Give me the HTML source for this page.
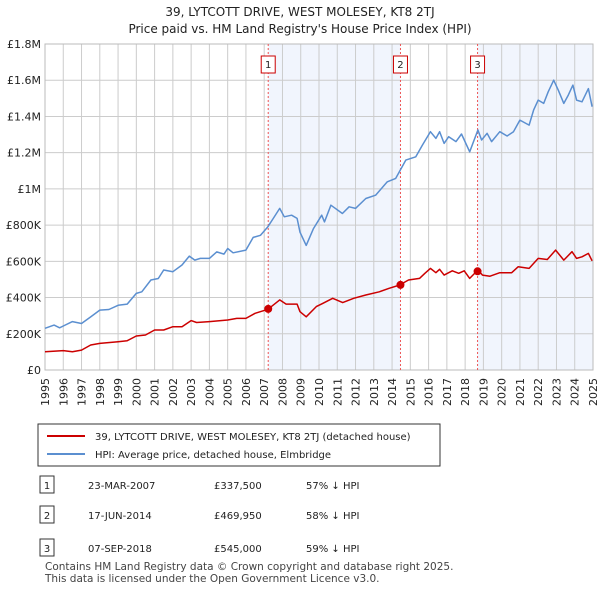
<!DOCTYPE html>
<html><head><meta charset="utf-8"><style>
body{margin:0;background:#fff;font-family:"Liberation Sans","DejaVu Sans",sans-serif;}
svg text{font-family:"DejaVu Sans","Liberation Sans",sans-serif;}
</style></head><body>
<svg id="c" width="600" height="590" viewBox="0 0 600 590" xmlns="http://www.w3.org/2000/svg">
<text x="300" y="16" text-anchor="middle" font-size="12" fill="#222">39, LYTCOTT DRIVE, WEST MOLESEY, KT8 2TJ</text>
<text x="300" y="33" text-anchor="middle" font-size="12" fill="#222">Price paid vs. HM Land Registry's House Price Index (HPI)</text>
<g id="plot"></g>
<g>
<rect x="38" y="424" width="402" height="42" fill="#fff" stroke="#333" stroke-width="1"/>
<line x1="47" y1="436" x2="85" y2="436" stroke="#cc0000" stroke-width="2"/>
<text x="95" y="440" font-size="10" fill="#222">39, LYTCOTT DRIVE, WEST MOLESEY, KT8 2TJ (detached house)</text>
<line x1="47" y1="454" x2="85" y2="454" stroke="#5b8fd0" stroke-width="2"/>
<text x="95" y="458" font-size="10" fill="#222">HPI: Average price, detached house, Elmbridge</text>
</g>
<g id="tbl"></g>
<text x="45" y="570" font-size="10.5" fill="#444">Contains HM Land Registry data © Crown copyright and database right 2025.</text>
<text x="45" y="582" font-size="10.5" fill="#444">This data is licensed under the Open Government Licence v3.0.</text>
</svg>
<script>
const hpiYears=[1995,1995.5,1995.8,1996,1996.5,1997,1997.5,1998,1998.5,1999,1999.5,2000,2000.3,2000.8,2001.2,2001.5,2002,2002.5,2002.9,2003.2,2003.5,2004,2004.4,2004.8,2005,2005.3,2006,2006.4,2006.8,2007.2,2007.5,2007.85,2008.1,2008.5,2008.8,2008.96,2009.3,2009.69,2010.15,2010.3,2010.65,2011.28,2011.65,2012,2012.56,2013.1,2013.74,2014.2,2014.75,2015.3,2015.66,2016.1,2016.4,2016.6,2016.85,2017.1,2017.5,2017.8,2018.25,2018.7,2018.9,2019.2,2019.45,2019.9,2020.3,2020.65,2021,2021.5,2021.75,2022,2022.3,2022.55,2022.85,2023.1,2023.4,2023.65,2023.9,2024.1,2024.4,2024.75,2024.95];
const hpiValues=[230,248,233,243,267,257,293,331,334,357,364,423,432,497,505,552,543,580,629,607,616,616,652,640,671,647,662,732,744,791,837,892,846,855,837,761,688,779,855,818,910,864,901,892,947,965,1039,1058,1159,1177,1242,1316,1279,1316,1251,1288,1261,1303,1205,1325,1270,1307,1261,1316,1292,1316,1380,1352,1435,1490,1472,1536,1600,1545,1472,1518,1573,1490,1481,1554,1454];
const priceYears=[1995,1996,1996.5,1997,1997.5,1998,1999,1999.5,2000,2000.5,2001,2001.5,2002,2002.5,2003,2003.3,2004,2005,2005.5,2006,2006.5,2007.2,2007.85,2008.2,2008.8,2008.96,2009.3,2009.85,2010.2,2010.75,2011.3,2011.9,2012.56,2013.3,2013.84,2014.4,2014.9,2015.5,2015.8,2016.1,2016.4,2016.6,2016.85,2017.3,2017.65,2017.95,2018.25,2018.7,2018.95,2019.36,2019.9,2020.55,2020.9,2021.5,2022,2022.5,2022.95,2023.4,2023.85,2024.1,2024.4,2024.75,2024.95];
const priceValues=[101,107,101,110,138,147,156,162,188,193,221,221,239,239,273,262,267,276,285,285,313,335,387,364,364,322,294,350,368,396,372,396,414,432,451,469,497,506,534,561,537,556,524,548,534,548,506,552,524,518,537,537,570,561,616,610,662,607,653,616,625,644,603];
const saleYears=[2007.22,2014.46,2018.68];
const saleValues=[337.5,469.95,545];
const saleLabels=["1","2","3"];
const saleDates=["23-MAR-2007","17-JUN-2014","07-SEP-2018"];
const salePrices=["£337,500","£469,950","£545,000"];
const saleDiffs=["57% ↓ HPI","58% ↓ HPI","59% ↓ HPI"];
const yTicks=[0,200,400,600,800,1000,1200,1400,1600,1800];
const yTickLabels=["£0","£200K","£400K","£600K","£800K","£1M","£1.2M","£1.4M","£1.6M","£1.8M"];
const xTicks=[1995,1996,1997,1998,1999,2000,2001,2002,2003,2004,2005,2006,2007,2008,2009,2010,2011,2012,2013,2014,2015,2016,2017,2018,2019,2020,2021,2022,2023,2024,2025];

const NS="http://www.w3.org/2000/svg";
const L=45,R=593,T=44,B=370;
const X=y=>L+(y-1995)/30*(R-L);
const Y=v=>B-v/1800*(B-T);
const plot=document.getElementById('plot');
function mk(tag,attrs,parent){const e=document.createElementNS(NS,tag);for(const k in attrs)e.setAttribute(k,attrs[k]);(parent||plot).appendChild(e);return e;}
// shading
for(let i=0;i<saleYears.length;i++){
  if(i===1)continue;
  const x0=X(saleYears[i]),x1=i===0?X(saleYears[1]):R;
  const r=mk('rect',{x:x0,y:T,width:x1-x0,height:B-T,fill:'#eef3fc',opacity:0.8});
  
  
}
// grid
xTicks.forEach(t=>{const l=mk('line',{x1:X(t),x2:X(t),y1:T,y2:B,stroke:'#cccccc','stroke-width':1});


const tx=mk('text',{x:0,y:0,'font-size':11,fill:'#222','text-anchor':'end',transform:`translate(${X(t)+4},${B+8}) rotate(-90)`});tx.textContent=t;

});
yTicks.forEach((t,i)=>{const l=mk('line',{x1:L,x2:R,y1:Y(t),y2:Y(t),stroke:'#cccccc','stroke-width':1});


const tx=mk('text',{x:L-4,y:Y(t)+4,'font-size':11,fill:'#222','text-anchor':'end'});tx.textContent=yTickLabels[i];

});
const br=mk('rect',{x:L,y:T,width:R-L,height:B-T,fill:'none',stroke:'#bbbbbb'});


// sale lines
saleYears.forEach((s,i)=>{const l=mk('line',{x1:X(s),x2:X(s),y1:T,y2:B,stroke:'#ee5555','stroke-width':1,'stroke-dasharray':'2,2'});


const bx=mk('rect',{x:X(s)-7,y:56,width:14,height:17,fill:'#fff',stroke:'#cc0000'});


const tx=mk('text',{x:X(s),y:68,'font-size':10,'text-anchor':'middle',fill:'#222'});tx.textContent=saleLabels[i];

});
function path(xs,vs,color,name){const d=xs.map((x,i)=>(i?'L':'M')+X(x).toFixed(1)+','+Y(vs[i]).toFixed(1)).join('');
const p=mk('path',{d:d,fill:'none',stroke:color,'stroke-width':1.5,'stroke-linejoin':'round'});

}
path(hpiYears,hpiValues,'#5b8fd0','hpi-line');
path(priceYears,priceValues,'#cc0000','price-line');
saleYears.forEach((s,i)=>{const c=mk('circle',{cx:X(s),cy:Y(saleValues[i]),r:4,fill:'#cc0000'});

});
// table
const tbl=document.getElementById('tbl');
[486,516,549].forEach((y,i)=>{
  const b=mk('rect',{x:40,y:y-10,width:14,height:17,fill:'#fff',stroke:'#333'},tbl);
  
  
  const cells=[[47,saleLabels[i],'middle'],[88,saleDates[i],'start'],[214,salePrices[i],'start'],[306,saleDiffs[i],'start']];
  cells.forEach(c=>{const t=mk('text',{x:c[0],y:y+3,'font-size':10,fill:'#222','text-anchor':c[2]},tbl);t.textContent=c[1];
  
  });
});
</script>
</body></html>
